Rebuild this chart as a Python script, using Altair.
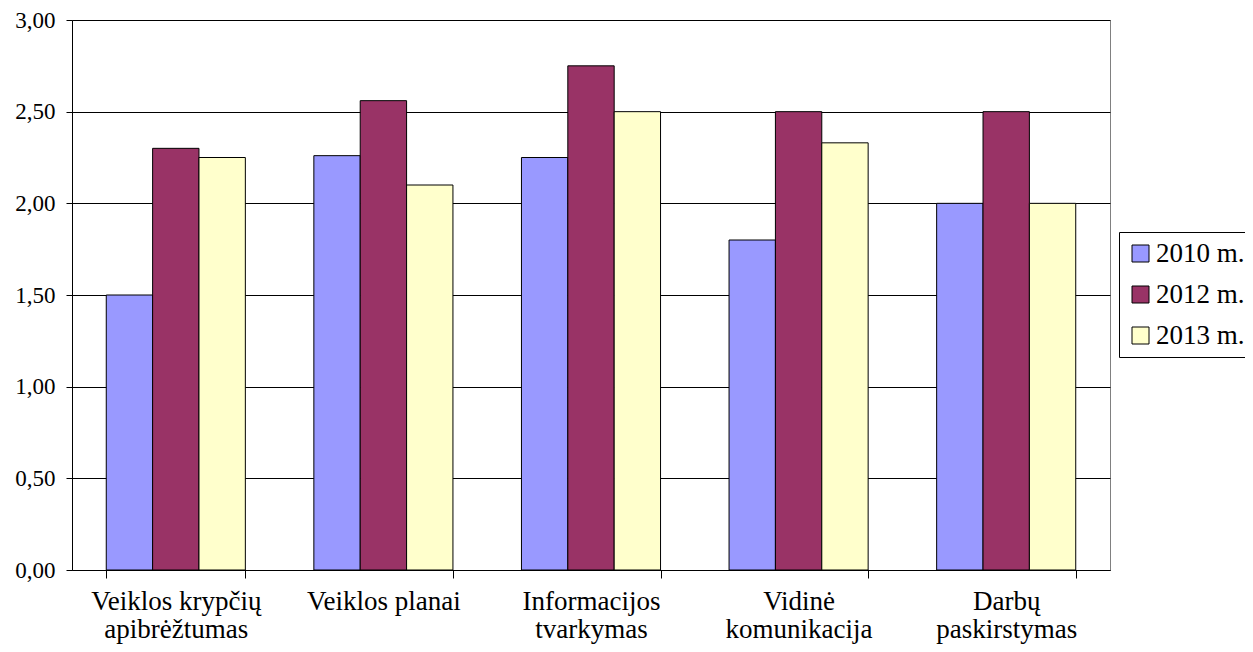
import altair as alt
import pandas as pd

categories = [
    "Veiklos krypčių\napibrėžtumas",
    "Veiklos planai",
    "Informacijos\ntvarkymas",
    "Vidinė\nkomunikacija",
    "Darbų\npaskirstymas",
]
years = ["2010 m.", "2012 m.", "2013 m."]
v2010 = [1.50, 2.26, 2.25, 1.80, 2.00]
v2012 = [2.30, 2.56, 2.75, 2.50, 2.50]
v2013 = [2.25, 2.10, 2.50, 2.33, 2.00]
colors = ["#9999FF", "#993366", "#FFFFCC"]
y_ticks = [0, 0.5, 1.0, 1.5, 2.0, 2.5, 3.0]

rows = []
for i, c in enumerate(categories):
    for yr, vals in zip(years, [v2010, v2012, v2013]):
        rows.append({"cat": c, "year": yr, "value": vals[i]})
df = pd.DataFrame(rows)

FONT = "Liberation Serif"

chart = alt.Chart(df).mark_bar(stroke="black", strokeWidth=1).encode(
    x=alt.X(
        "cat:N", sort=categories, title=None,
        scale=alt.Scale(paddingInner=0.33, paddingOuter=0.165),
        axis=alt.Axis(
            labelAngle=0, tickBand="extent", grid=False,
            labelExpr="split(datum.label, '\\n')",
            labelFont=FONT, labelFontSize=27, labelColor="black",
            labelLineHeight=28, labelPadding=10,
            tickSize=8, tickColor="black", domainColor="black",
        ),
    ),
    xOffset=alt.XOffset("year:N", sort=years, scale=alt.Scale(paddingInner=0, paddingOuter=0)),
    y=alt.Y(
        "value:Q", title=None,
        scale=alt.Scale(domain=[0, 3], nice=False),
        axis=alt.Axis(
            values=y_ticks, grid=True, gridColor="black", gridWidth=1,
            labelExpr="replace(format(datum.value, '.2f'), '.', ',')",
            labelFont=FONT, labelFontSize=23, labelColor="black",
            labelPadding=11, tickSize=6, tickColor="black", domainColor="black",
        ),
    ),
    color=alt.Color(
        "year:N",
        scale=alt.Scale(domain=years, range=colors),
        legend=alt.Legend(
            title=None, orient="none", legendX=1047, legendY=212,
            strokeColor="black", fillColor="white", padding=8,
            symbolType="square", symbolSize=289, symbolStrokeColor="black",
            symbolStrokeWidth=1, symbolOpacity=1,
            labelFont=FONT, labelFontSize=27, labelColor="black",
            rowPadding=13, labelOffset=2,
        ),
    ),
).properties(
    width=1038, height=550,
    padding={"left": 64, "top": 12, "right": 135, "bottom": 74},
    autosize="none",
).configure(
    font=FONT,
).configure_view(stroke="#808080")

chart.save("out.html", embed_options={"renderer": "svg", "actions": False})
